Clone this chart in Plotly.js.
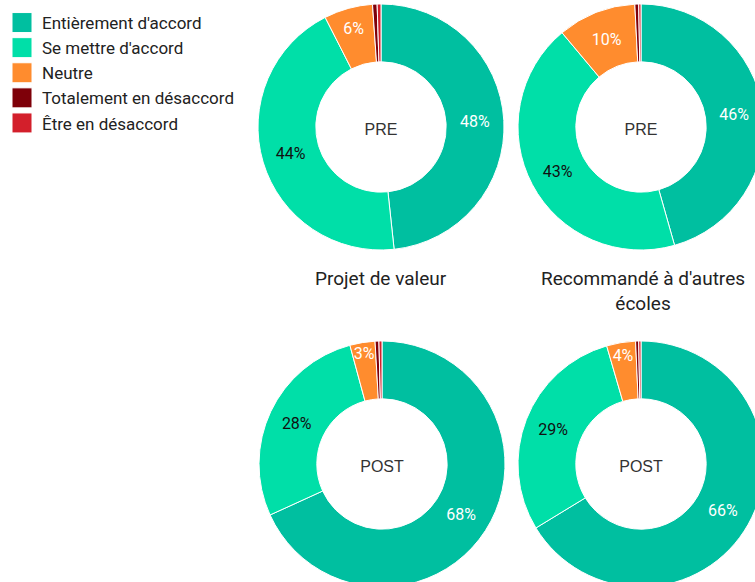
<!DOCTYPE html>
<html>
<head>
<meta charset="utf-8">
<script src="https://cdn.plot.ly/plotly-3.0.1.min.js"></script>
<style>
html,body{margin:0;padding:0;overflow:hidden;background:#fff;}
#chart{width:790px;height:620px;}
</style>
</head>
<body>
<div id="chart"></div>
<script>
// Categories (legend order = clockwise slice order from 12 o'clock)
const categories = ["Entièrement d'accord", "Se mettre d'accord", "Neutre", "Totalement en désaccord", "Être en désaccord"];
const colors = ["#00bfa0", "#00dfa8", "#ff8c2e", "#7e0009", "#d31f2b"];

// Values (percent)
const projetPre   = [48.3, 44.2, 6.4, 0.6, 0.5];
const recoPre     = [45.6, 43.3, 10.3, 0.5, 0.3];
const projetPost  = [68.2, 27.6, 3.3, 0.5, 0.4];
const recoPost    = [66.3, 29.2, 3.8, 0.4, 0.3];

const groupTitles = ["Projet de valeur", "Recommandé à d'autres<br>écoles"];
const phaseLabels = ["PRE", "POST"];

const W = 790, H = 620;
function dom(cx, cy, r) {
  return {x: [(cx - r) / W, (cx + r) / W], y: [(H - (cy + r)) / H, (H - (cy - r)) / H]};
}

const textTpl = ['%{percent:.0%}', '%{percent:.0%}', '%{percent:.0%}', '', ''];
const textCols = ['#ffffff', '#111111', '#ffffff', '#ffffff', '#ffffff'];

function pie(values, label, d, show) {
  return {
    type: 'pie',
    labels: categories,
    values: values,
    sort: false,
    direction: 'clockwise',
    rotation: 0,
    hole: 0.53,
    domain: d,
    marker: {colors: colors, line: {color: '#ffffff', width: 1}},
    texttemplate: textTpl,
    textposition: 'inside',
    insidetextorientation: 'horizontal',
    insidetextfont: {family: 'Roboto, sans-serif', size: 16, color: textCols},
    title: {text: label, position: 'middle center', font: {family: 'Liberation Sans, Arial, sans-serif', size: 16, color: '#333333'}},
    showlegend: show,
    hoverinfo: 'label+percent'
  };
}

const R = 123;
const data = [
  pie(projetPre,  phaseLabels[0], dom(381, 127, R), true),
  pie(recoPre,    phaseLabels[0], dom(641, 127, R), false),
  pie(projetPost, phaseLabels[1], dom(382, 464, R), false),
  pie(recoPost,   phaseLabels[1], dom(641, 464, R), false)
];

const layout = {
  width: W, height: H,
  margin: {l: 0, r: 0, t: 0, b: 0},
  paper_bgcolor: '#ffffff',
  font: {family: 'Roboto, sans-serif', color: '#222222'},
  uniformtext: {minsize: 16, mode: 'show'},
  legend: {
    x: 2 / W, y: (H - 5) / H, xanchor: 'left', yanchor: 'top',
    font: {family: 'Roboto, sans-serif', size: 17, color: '#222222'},
    bgcolor: 'rgba(0,0,0,0)',
    tracegroupgap: 0
  },
  annotations: [
    {text: groupTitles[0], x: 381 / W, y: (H - 265) / H, xref: 'paper', yref: 'paper', xanchor: 'center', yanchor: 'top', showarrow: false, font: {family: 'Roboto, sans-serif', size: 19, color: '#222222'}},
    {text: groupTitles[1], x: 643 / W, y: (H - 265) / H, xref: 'paper', yref: 'paper', xanchor: 'center', yanchor: 'top', showarrow: false, font: {family: 'Roboto, sans-serif', size: 19, color: '#222222'}}
  ]
};

Plotly.newPlot('chart', data, layout, {displayModeBar: false, staticPlot: true}).then(function () {
  document.querySelectorAll('.legendpie').forEach(function (p) {
    p.setAttribute('d', 'M10,10H-10V-10H10Z');
  });
});
</script>
</body>
</html>
